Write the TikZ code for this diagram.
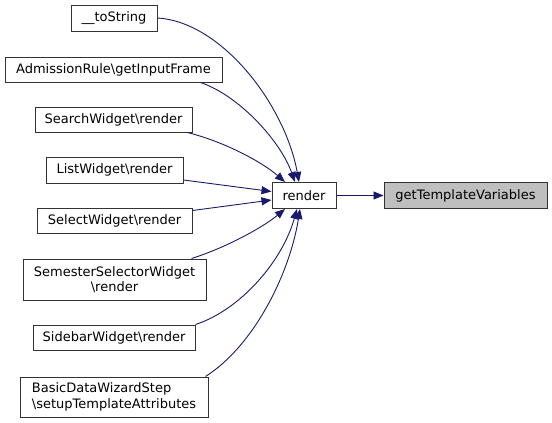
\documentclass[tikz,border=0pt]{standalone}
\usepackage{fontspec}
\setmainfont{DejaVu Sans}
\usetikzlibrary{arrows.meta,calc}
\definecolor{edgeblue}{HTML}{191970}
\definecolor{hilite}{HTML}{BFBFBF}
\begin{document}
\begin{tikzpicture}[x=1pt,y=-1pt,
  box/.style={draw=black!80,line width=1pt,fill=white,inner sep=0pt,font=\fontsize{13}{15.5}\selectfont},
  edge/.style={draw=edgeblue,line width=0.9pt,-{Triangle[length=10pt,width=8pt]}}]
\useasboundingbox (0,0) rectangle (552,423);
\node[box,minimum width=86pt,minimum height=26pt] (ts) at (114,18) {\_\_toString};
\node[box,minimum width=217pt,minimum height=25pt] (adm) at (113.5,69.5) {AdmissionRule\textbackslash getInputFrame};
\node[box,minimum width=157pt,minimum height=25pt] (sw) at (113.5,119.5) {SearchWidget\textbackslash render};
\node[box,minimum width=137pt,minimum height=26pt] (lw) at (114.5,170) {ListWidget\textbackslash render};
\node[box,minimum width=155pt,minimum height=25pt] (sel) at (114.5,220.5) {SelectWidget\textbackslash render};
\node[box,minimum width=183pt,minimum height=41pt,align=center] (sem) at (114.5,279.5) {SemesterSelectorWidget\\\textbackslash render};
\node[box,minimum width=162pt,minimum height=25pt] (sb) at (114,337.5) {SidebarWidget\textbackslash render};
\node[box,minimum width=188pt,minimum height=40pt,align=left] (bd) at (114,397) {BasicDataWizardStep\\\textbackslash setupTemplateAttributes};
\node[box,minimum width=64pt,minimum height=26pt] (r) at (304,195.5) {render};
\node[box,fill=hilite,minimum width=163pt,minimum height=26pt] (gt) at (465.5,195.5) {getTemplateVariables};

\draw[edge] (r.east) -- (gt.west);
\draw[edge] (ts.east) .. controls (222,22) and (285,105) .. ($(r.north)+(-5,0)$);
\draw[edge] ($(adm.south east)+(-22,0)$) .. controls (238,95) and (280,140) .. ($(r.north)+(-9,0)$);
\draw[edge] ($(sw.south east)+(-5,0)$) .. controls (225,142) and (262,162) .. ($(r.north)+(-19,0)$);
\draw[edge] ($(lw.east)+(0,10)$) -- ($(r.west)+(0,-4)$);
\draw[edge] ($(sel.east)+(0,-10)$) -- ($(r.west)+(0,4.5)$);
\draw[edge] ($(sem.north east)+(-15,0)$) .. controls (225,248) and (262,228) .. ($(r.south)+(-19,0)$);
\draw[edge] ($(sb.north east)$) .. controls (240,310) and (282,262) .. ($(r.south)+(-7,0)$);
\draw[edge] ($(bd.north east)+(-3,0)$) .. controls (255,345) and (290,272) .. ($(r.south)+(-4,0)$);
\end{tikzpicture}
\end{document}
